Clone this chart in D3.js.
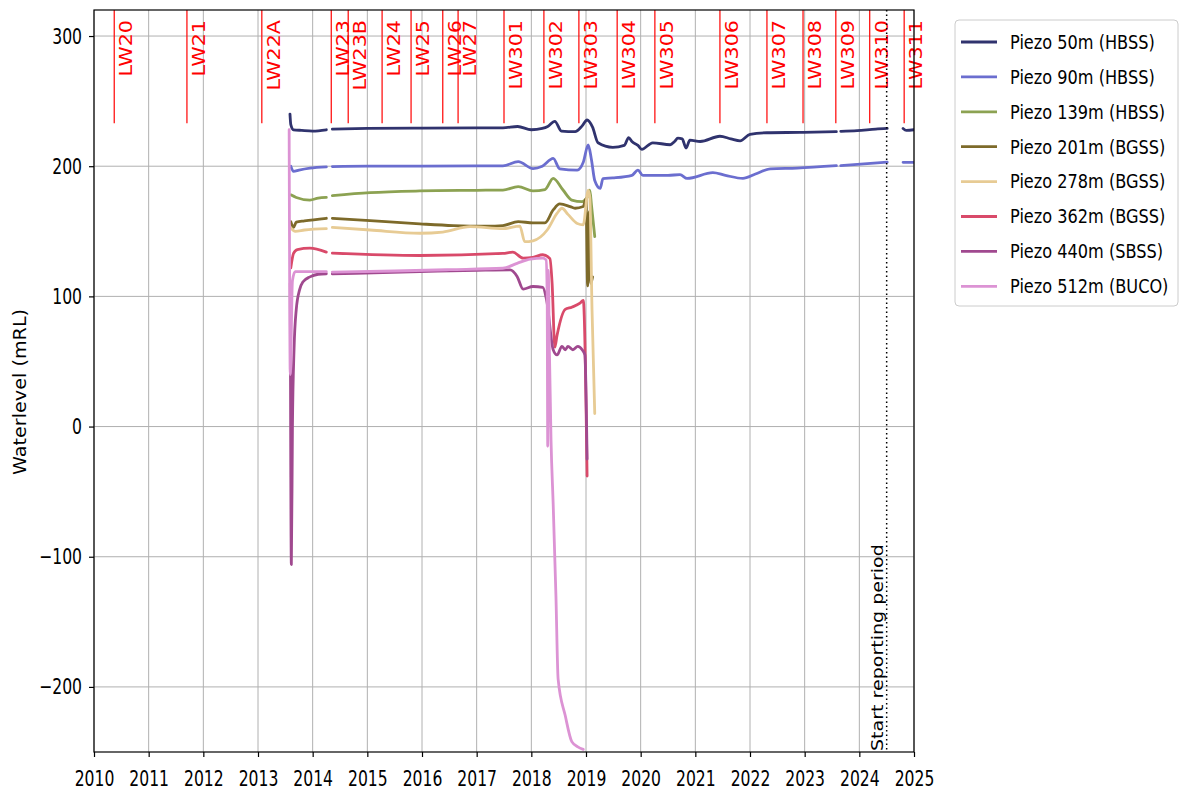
<!DOCTYPE html>
<html><head><meta charset="utf-8">
<script src="https://cdn.jsdelivr.net/npm/d3@7"></script>
<style>body{margin:0;background:#fff;} text{font-family:"DejaVu Sans",sans-serif;}</style>
</head><body>
<svg id="chart" width="1181" height="792"></svg>
<script>
// ---- data ----
const yearTicks = [2010,2011,2012,2013,2014,2015,2016,2017,2018,2019,2020,2021,2022,2023,2024,2025];
const valueTicks = [300,200,100,0,-100,-200];
const longwallNames = ["LW20","LW21","LW22A","LW23","LW23B","LW24","LW25","LW26","LW27","LW301","LW302","LW303","LW304","LW305","LW306","LW307","LW308","LW309","LW310","LW311"];
const longwallStarts = [2010.37,2011.70,2013.07,2014.34,2014.65,2015.27,2015.80,2016.38,2016.66,2017.50,2018.23,2018.87,2019.57,2020.26,2021.45,2022.31,2022.97,2023.57,2024.19,2024.82];
const reportingStart = 2024.50;
const seriesNames = ["Piezo 50m (HBSS)","Piezo 90m (HBSS)","Piezo 139m (HBSS)","Piezo 201m (BGSS)","Piezo 278m (BGSS)","Piezo 362m (BGSS)","Piezo 440m (SBSS)","Piezo 512m (BUCO)"];
const seriesColors = ["#30336e","#6b6ecf","#8ca252","#7d6a2a","#e7cb94","#d94a6a","#a0498f","#dc93d4"];

const piezo50 = [[2013.585,240],[2013.6,232],[2013.65,228],[2013.8,227.5],[2014.0,227],[2014.25,228],[2014.3,null],
 [2014.36,228.5],[2015,229],[2016,229.3],[2017,229.5],[2017.48,229.5],[2017.75,230.5],[2018.0,228],[2018.2,229],[2018.3,230.5],
 [2018.43,234.5],[2018.55,227],[2018.8,226.5],[2018.93,231],[2019.02,235.5],[2019.12,230],[2019.22,218],[2019.49,214.5],
 [2019.7,216],[2019.78,222],[2019.84,219],[2019.95,216],[2020.02,213],[2020.22,218],[2020.54,216.5],[2020.62,219],
 [2020.68,221.5],[2020.76,221],[2020.83,214],[2020.9,220],[2021.09,219],[2021.45,223],[2021.65,221],[2021.82,219.5],
 [2022.0,224.5],[2022.31,225.7],[2022.91,226],[2023.58,226.5],[2023.62,null],[2023.66,226.8],[2023.96,227.3],[2024.3,228.5],
 [2024.51,229],[2024.6,null],[2024.8,229],[2024.86,227.5],[2025,228]];
const piezo90 = [[2013.6,200],[2013.65,196],[2013.75,197],[2013.95,198.5],[2014.25,199.5],[2014.3,null],[2014.36,199.7],
 [2015,200],[2016,200],[2017,200.2],[2017.48,200.3],[2017.76,203.5],[2018.03,198.2],[2018.2,200],[2018.4,206],[2018.52,198],
 [2018.84,197],[2018.95,203],[2019.04,216.3],[2019.1,205],[2019.16,189],[2019.26,183],[2019.31,190.5],[2019.49,191],
 [2019.84,193],[2019.95,197],[2020.04,193],[2020.5,193],[2020.72,193.5],[2020.85,190.6],[2021.32,195],[2021.55,193],
 [2021.87,190.6],[2022.1,194],[2022.37,198],[2022.86,198.6],[2023.58,200.4],[2023.62,null],[2023.66,200.5],[2024.51,203.2],
 [2024.6,null],[2024.8,203],[2025,203]];
const piezo139 = [[2013.6,178],[2013.7,176],[2013.95,174],[2014.1,175.5],[2014.25,176],[2014.3,null],[2014.36,177.4],
 [2015.05,179.7],[2015.96,181],[2017.0,181.5],[2017.48,181.7],[2017.76,184.3],[2018.03,181],[2018.25,182],[2018.4,190.7],
 [2018.58,181.7],[2018.74,174],[2018.93,172.8],[2019.02,176],[2019.07,181.6],[2019.1,170],[2019.16,146]];
const piezo201 = [[2013.6,157.4],[2013.65,153],[2013.7,157],[2013.85,158],[2014.25,160],[2014.3,null],[2014.36,160],
 [2015.05,158.2],[2015.96,155.7],[2016.57,154.4],[2017.19,154],[2017.48,154.4],[2017.76,157.4],[2018.03,156.5],[2018.25,156.5],
 [2018.4,166.4],[2018.52,171],[2018.71,169],[2018.8,167.7],[2018.95,169],[2019.0,175],[2019.03,108],[2019.06,165],
 [2019.09,110],[2019.12,115]];
const piezo278 = [[2013.6,152.6],[2013.68,150],[2013.85,151],[2014.25,152],[2014.3,null],[2014.36,153],[2015.05,151],
 [2015.96,148.5],[2016.38,149.4],[2016.88,153.6],[2017.48,152],[2017.79,154],[2017.88,142],[2018.03,142.7],[2018.29,151],
 [2018.47,163.8],[2018.56,167.7],[2018.67,163],[2018.84,156],[2018.95,155],[2019.04,181.7],[2019.07,176],[2019.11,90],[2019.16,10]];
const piezo362 = [[2013.6,122],[2013.65,133],[2013.72,136],[2013.95,137],[2014.25,134],[2014.3,null],[2014.36,133.2],
 [2015.96,131.4],[2017.48,133],[2017.66,134],[2017.85,129.4],[2018.03,130],[2018.21,132],[2018.34,129],[2018.38,110],
 [2018.43,61],[2018.47,70],[2018.62,90],[2018.74,91.7],[2018.89,94.8],[2018.95,97],[2019.02,-38]];
const piezo440 = [[2013.59,110],[2013.61,-106],[2013.63,0],[2013.66,60],[2013.70,90],[2013.76,105],[2013.82,111],[2013.95,115],
 [2014.1,117],[2014.25,117.4],[2014.3,null],[2014.36,117.3],[2015.96,119],[2017.0,120],[2017.61,120.4],[2017.74,115.3],
 [2017.85,105.6],[2018.03,107.6],[2018.21,107],[2018.28,97],[2018.40,59],[2018.47,55],[2018.56,61.6],[2018.62,59],
 [2018.67,61.6],[2018.76,59],[2018.85,61.6],[2018.93,59],[2018.98,55],[2019.02,-25]];
const piezo512 = [[2013.57,228],[2013.59,40],[2013.63,112],[2013.68,119],[2014.25,119],[2014.3,null],[2014.36,118.7],
 [2015.5,119.5],[2016.5,120.5],[2017.48,121.6],[2017.74,125.4],[2017.98,128.6],[2018.21,129.4],[2018.27,128],[2018.29,100],
 [2018.30,-15],[2018.31,120],[2018.33,60],[2018.36,-10],[2018.40,-60],[2018.45,-130],[2018.49,-194],[2018.62,-222],
 [2018.74,-242],[2018.85,-246],[2018.95,-248]];
const allSeries = [piezo50,piezo90,piezo139,piezo201,piezo278,piezo362,piezo440,piezo512];

// ---- chart ----
const svg = d3.select("#chart");
const L=94, R=914, T=10, B=752;
const x = d3.scaleLinear().domain([2010,2025]).range([L,R]);
const y = d3.scaleLinear().domain([-250,320]).range([B,T]);

svg.append("defs").append("clipPath").attr("id","clip")
  .append("rect").attr("x",L).attr("y",T).attr("width",R-L).attr("height",B-T);

// grid
const grid = svg.append("g").attr("stroke","#b0b0b0").attr("stroke-width",1);
grid.selectAll(".vg").data(yearTicks).join("line")
  .attr("x1",d=>x(d)).attr("x2",d=>x(d)).attr("y1",T).attr("y2",B);
grid.selectAll(".hg").data(valueTicks).join("line")
  .attr("x1",L).attr("x2",R).attr("y1",d=>y(d)).attr("y2",d=>y(d));

// longwall lines
const lw = svg.append("g");
lw.selectAll("line").data(longwallStarts).join("line")
  .attr("x1",d=>x(d)).attr("x2",d=>x(d)).attr("y1",y(320)).attr("y2",y(233))
  .attr("stroke","red").attr("stroke-width",1.2);
lw.selectAll("text").data(longwallNames).join("text")
  .attr("transform",(d,i)=>`translate(${x(longwallStarts[i])+18},${T+10}) rotate(-90) scale(1.15,1)`)
  .attr("text-anchor","end").attr("fill","red").attr("font-size",18).text(d=>d);

// series
const line = d3.line().defined(d=>d[1]!==null).curve(d3.curveMonotoneX).x(d=>x(d[0])).y(d=>y(d[1]));
svg.append("g").attr("clip-path","url(#clip)").selectAll("path").data(allSeries).join("path")
  .attr("d",line).attr("fill","none").attr("stroke",(d,i)=>seriesColors[i])
  .attr("stroke-width",2.8).attr("stroke-linejoin","round").attr("stroke-linecap","round");

// reporting period
svg.append("line").attr("x1",x(reportingStart)).attr("x2",x(reportingStart)).attr("y1",T).attr("y2",B)
  .attr("stroke","#000").attr("stroke-width",1.5).attr("stroke-dasharray","1.5,3");
svg.append("text").attr("transform",`translate(${x(reportingStart)-4},${B-1}) rotate(-90) scale(1.19,1)`)
  .attr("font-size",16).attr("fill","#000").text("Start reporting period");

// axes
const xa = svg.append("g").attr("transform",`translate(0,${B})`)
  .call(d3.axisBottom(x).tickValues(yearTicks).tickFormat(d3.format("d")).tickSize(5).tickPadding(13));
xa.selectAll("text").attr("font-size",22).attr("font-family","DejaVu Sans").attr("fill","#000")
  .attr("transform","scale(0.71,1)");
const ya = svg.append("g").attr("transform",`translate(${L},0)`)
  .call(d3.axisLeft(y).tickValues(valueTicks).tickSize(5));
ya.selectAll("text").attr("font-size",22).attr("font-family","DejaVu Sans").attr("fill","#000")
  .attr("x",-12/0.71).attr("transform","scale(0.71,1)");
[xa,ya].forEach(a=>{a.select(".domain").remove(); a.selectAll("line").attr("stroke","#000").attr("stroke-width",1.2);});
svg.append("rect").attr("x",L).attr("y",T).attr("width",R-L).attr("height",B-T)
  .attr("fill","none").attr("stroke","#000").attr("stroke-width",1.2);

svg.append("text").attr("transform",`translate(26,392) rotate(-90) scale(1.13,1)`)
  .attr("text-anchor","middle").attr("font-size",17).attr("fill","#000").text("Waterlevel (mRL)");

// legend
const lg = svg.append("g");
lg.append("rect").attr("x",955).attr("y",20).attr("width",223).attr("height",286).attr("rx",4)
  .attr("fill","#fff").attr("stroke","#cccccc").attr("stroke-width",1);
const rows = lg.selectAll(".row").data(seriesNames).join("g")
  .attr("transform",(d,i)=>`translate(0,${42+i*34.9})`);
rows.append("line").attr("x1",961).attr("x2",997).attr("y1",0).attr("y2",0)
  .attr("stroke",(d,i)=>seriesColors[i]).attr("stroke-width",2.8);
rows.append("text").attr("transform","translate(1010,0) scale(0.85,1)").attr("dy","0.36em")
  .attr("font-size",19).attr("fill","#000").text(d=>d);
</script>
</body></html>
